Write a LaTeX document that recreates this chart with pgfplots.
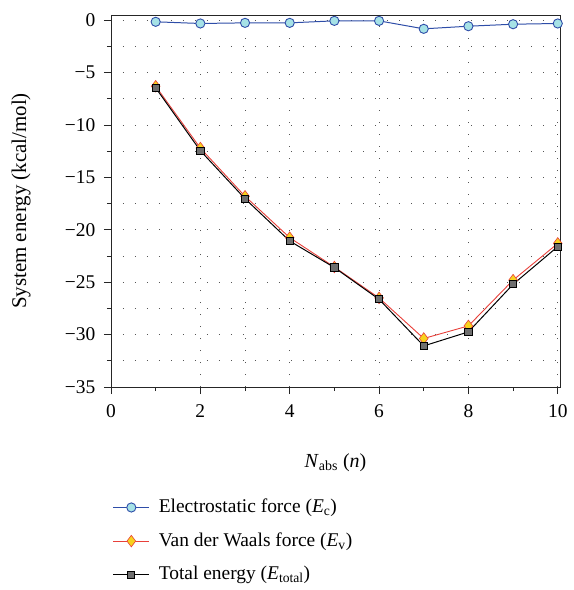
\documentclass[border=0pt]{standalone}
\usepackage{pgfplots}
\pgfplotsset{compat=1.18}
\usepackage{fontspec}
\setmainfont{Liberation Serif}
\definecolor{ecline}{HTML}{2E4DA8}
\definecolor{ecfill}{HTML}{A6E2E6}
\definecolor{vline}{HTML}{E8403A}
\definecolor{vfill}{HTML}{F7D21E}
\definecolor{tfill}{HTML}{6E6E6E}
\definecolor{gridc}{HTML}{555555}
\begin{document}
\fontsize{19.5}{23}\selectfont
\begin{tikzpicture}
\begin{axis}[
  name=ax,
  scale only axis,
  width=449bp, height=372bp,
  xmin=0, xmax=10.05, ymin=-35, ymax=0.5,
  clip=false,
  axis line style={draw=black!85, line width=0.8pt},
  xtick={0,2,4,6,8,10},
  minor xtick={1,3,5,7,9},
  ytick={-35,-30,-25,-20,-15,-10,-5,0},
  yticklabels={−35,−30,−25,−20,−15,−10,−5,0},
  minor ytick={-32.5,-27.5,-22.5,-17.5,-12.5,-7.5,-2.5},
  extra x ticks={3},
  extra x tick labels={},
  extra x tick style={grid=major, major tick length=0pt},
  xtick pos=bottom, ytick pos=left,
  tick align=outside,
  major tick length=7bp, minor tick length=4bp,
  tick style={black!85, line width=0.7pt},
  xmajorgrids, ymajorgrids, yminorgrids,
  major grid style={gridc, line width=0.8pt, dash pattern=on 1.2bp off 10.8bp},
  minor grid style={gridc, line width=0.8pt, dash pattern=on 1.2bp off 10.8bp},
  /pgf/number format/assume math mode=true,
  tick label style={font=\fontsize{19.5}{23}\selectfont},
  xticklabel style={yshift=-4bp},
  yticklabel style={xshift=-2bp},
  xlabel={\textit{N}\textsubscript{abs} (\textit{n})},
  ylabel={System energy (kcal/mol)},
  every axis x label/.style={at={(axis description cs:0.5,-0.203)}, anchor=center, font=\fontsize{20}{24}\selectfont},
  every axis y label/.style={at={(axis description cs:-0.2,0.5)}, rotate=90, anchor=center, font=\fontsize{21}{25}\selectfont},
  legend style={at={(axis description cs:-0.003,-0.293)}, anchor=north west, draw=none, fill=none,
    font=\fontsize{19.5}{23}\selectfont, row sep=15bp, legend cell align=left,
    nodes={inner sep=1bp}},
  legend image code/.code={\draw[mark repeat=2, mark phase=2, #1] plot coordinates {(0bp,0bp)(18bp,0bp)(36bp,0bp)};},
  legend style={/tikz/every odd column/.append style={column sep=8bp}},
]
\addplot[ecline, line width=1pt, mark=*, mark size=4.6bp, mark options={fill=ecfill, draw=ecline, line width=0.9pt}]
  coordinates {(1,-0.15)(2,-0.31)(3,-0.25)(4,-0.25)(5,-0.06)(6,-0.06)(7,-0.82)(8,-0.57)(9,-0.38)(10,-0.31)};
\addlegendentry{Electrostatic force (\textit{E}\textsubscript{c})}
\addplot[vline, line width=0.9pt, mark=diamond*, mark size=5.8bp, mark options={fill=vfill, draw=vline, line width=0.6pt}]
  coordinates {(1,-6.3)(2,-12.2)(3,-16.8)(4,-20.75)(5,-23.55)(6,-26.5)(7,-30.37)(8,-29.17)(9,-24.8)(10,-21.3)};
\addlegendentry{Van der Waals force (\textit{E}\textsubscript{v})}
\addplot[black, line width=1pt, mark=square*, mark size=3.6bp, mark options={fill=tfill, draw=black, line width=0.9pt}]
  coordinates {(1,-6.45)(2,-12.45)(3,-17.03)(4,-21.07)(5,-23.6)(6,-26.63)(7,-31.08)(8,-29.74)(9,-25.2)(10,-21.6)};
\addlegendentry{Total energy (\textit{E}\textsubscript{total})}
\end{axis}
\path ([xshift=-111bp,yshift=-203bp]ax.south west) rectangle ([xshift=11bp,yshift=15bp]ax.north east);
\end{tikzpicture}
\end{document}
